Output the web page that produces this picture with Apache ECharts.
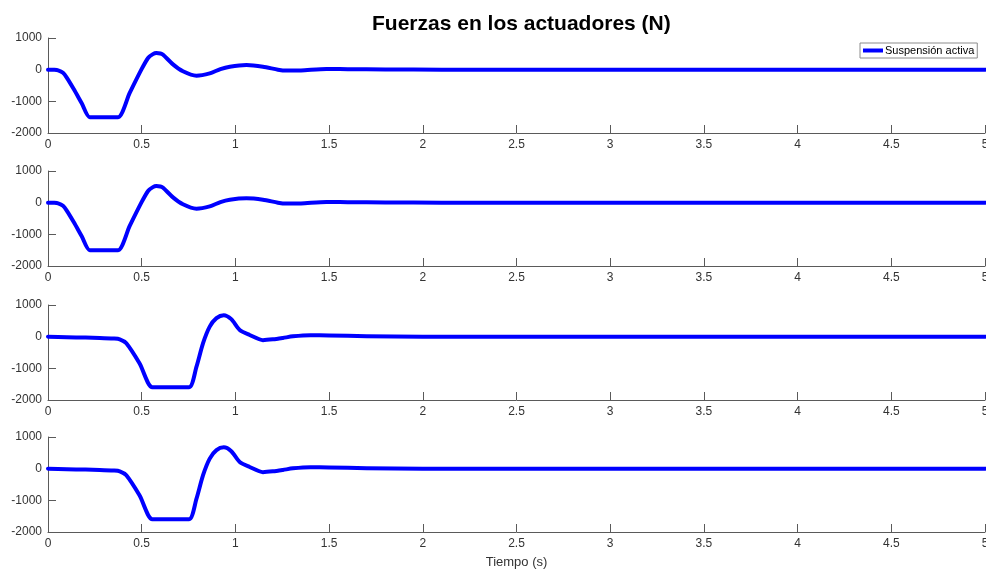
<!DOCTYPE html>
<html>
<head>
<meta charset="utf-8">
<script src="https://cdn.jsdelivr.net/npm/echarts@6/dist/echarts.min.js"></script>
<style>html,body{margin:0;padding:0;background:#fff;}#c{width:986px;height:571px;}</style>
</head>
<body>
<div id="c"></div>
<script>
// Data
const title = 'Fuerzas en los actuadores (N)';
const seriesName = 'Suspensión activa';
const xLabel = 'Tiempo (s)';
const yTicks = [-2000, -1000, 0, 1000];

const t1 = [0, 0.03, 0.054, 0.08, 0.1, 0.138, 0.18, 0.223, 0.3, 0.374, 0.436, 0.498, 0.534, 0.56, 0.578, 0.6, 0.614, 0.667, 0.72, 0.792, 0.863, 0.92, 0.97, 1.059, 1.147, 1.227, 1.27, 1.35, 1.486, 1.6, 1.8, 2.1, 2.5, 3, 4, 5];
const v1 = [0, -5, -20, -100, -250, -620, -1060, -1500, -1500, -1500, -735, 0, 370, 490, 525, 510, 470, 167, -52, -190, -117, 20, 95, 145, 95, 0, -30, -25, 25, 15, 5, 0, 0, 0, 0, 0];

const t2 = [0, 0.03, 0.054, 0.08, 0.1, 0.138, 0.18, 0.223, 0.3, 0.374, 0.436, 0.498, 0.534, 0.56, 0.578, 0.6, 0.614, 0.667, 0.72, 0.792, 0.863, 0.92, 0.97, 1.059, 1.147, 1.227, 1.27, 1.35, 1.486, 1.6, 1.8, 2.1, 2.5, 3, 4, 5];
const v2 = [0, -5, -20, -100, -250, -620, -1060, -1500, -1500, -1500, -735, 0, 370, 490, 525, 510, 470, 167, -52, -190, -117, 20, 95, 140, 95, 0, -30, -25, 25, 15, 5, 0, 0, 0, 0, 0];

const t3 = [0, 0.1, 0.2, 0.276, 0.35, 0.383, 0.418, 0.489, 0.557, 0.65, 0.753, 0.792, 0.827, 0.863, 0.899, 0.938, 0.978, 1.023, 1.076, 1.147, 1.2, 1.254, 1.307, 1.4, 1.5, 1.7, 2.0, 2.5, 3, 4, 5];
const v3 = [0, -20, -30, -40, -60, -85, -210, -850, -1600, -1600, -1600, -955, -212, 318, 585, 680, 553, 213, 54, -110, -85, -40, 10, 45, 40, 15, 0, 0, 0, 0, 0];

const t4 = [0, 0.1, 0.2, 0.276, 0.35, 0.383, 0.418, 0.489, 0.557, 0.65, 0.753, 0.792, 0.827, 0.863, 0.899, 0.938, 0.978, 1.023, 1.076, 1.147, 1.2, 1.254, 1.307, 1.4, 1.5, 1.7, 2.0, 2.5, 3, 4, 5];
const v4 = [0, -20, -30, -40, -60, -85, -210, -850, -1600, -1600, -1600, -955, -212, 318, 585, 675, 553, 213, 54, -110, -85, -40, 10, 45, 40, 15, 0, 0, 0, 0, 0];

const panels = [[t1, v1], [t2, v2], [t3, v3], [t4, v4]];
const tops = [38, 171, 305, 437];
const font = 'Liberation Sans, Arial, Helvetica, sans-serif';
const axisColor = '#5a5a5a';
const textColor = '#333';

const chart = echarts.init(document.getElementById('c'), null, {renderer: 'canvas'});
const grids = [], xAxes = [], yAxes = [], series = [];
panels.forEach((p, i) => {
  grids.push({left: 48, right: 1, top: tops[i], height: 95, containLabel: false, outerBoundsMode: 'none'});
  xAxes.push({
    type: 'value', gridIndex: i, min: 0, max: 5, interval: 0.5,
    axisLine: {show: true, onZero: false, lineStyle: {color: axisColor, width: 1}},
    axisTick: {show: true, inside: true, length: 8, lineStyle: {color: axisColor}},
    axisLabel: {color: textColor, fontSize: 12, fontFamily: font, margin: 6, showMaxLabel: true, showMinLabel: true,
      formatter: v => String(v)},
    splitLine: {show: false},
    name: i === 3 ? xLabel : '', nameLocation: 'middle', nameGap: 24,
    nameTextStyle: {color: textColor, fontSize: 13, fontFamily: font}
  });
  yAxes.push({
    type: 'value', gridIndex: i, min: yTicks[0], max: yTicks[yTicks.length - 1], interval: 1000,
    axisLine: {show: true, onZero: false, lineStyle: {color: axisColor, width: 1}},
    axisTick: {show: true, inside: true, length: 8, lineStyle: {color: axisColor}},
    axisLabel: {color: textColor, fontSize: 12, fontFamily: font, margin: 6, formatter: v => String(v)},
    splitLine: {show: false}
  });
  series.push({
    name: seriesName, type: 'line', xAxisIndex: i, yAxisIndex: i,
    data: p[0].map((t, k) => [t, p[1][k]]),
    showSymbol: false, smooth: 0.25, clip: true,
    lineStyle: {color: '#0000ff', width: 4, join: 'round', cap: 'round'},
    itemStyle: {color: '#0000ff'}
  });
});

chart.setOption({
  animation: false,
  backgroundColor: '#fff',
  title: {text: title, left: 367, top: 9, textStyle: {fontSize: 21, fontWeight: 'bold', color: '#000', fontFamily: font}},
  legend: {
    data: [seriesName], left: 860, top: 43, orient: 'vertical',
    icon: 'rect', itemWidth: 20, itemHeight: 4, itemGap: 0,
    padding: [2, 3, 2, 3], borderColor: '#8c8c8c', borderWidth: 1, backgroundColor: '#fff',
    textStyle: {fontSize: 11, color: '#000', fontFamily: font, padding: [0, 0, 0, -3]}
  },
  grid: grids, xAxis: xAxes, yAxis: yAxes, series: series
});
</script>
</body>
</html>
